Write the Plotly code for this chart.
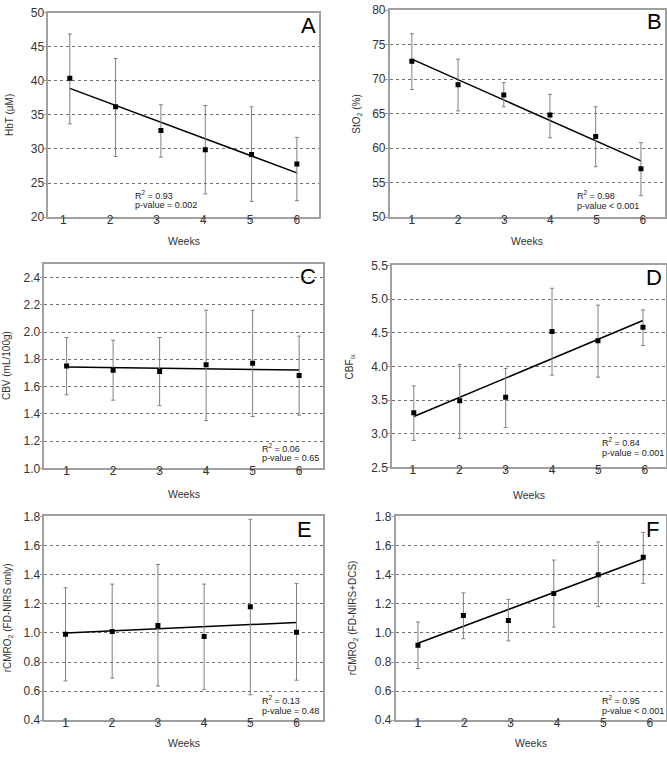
import numpy as np
import plotly.graph_objects as go

W, H = 667, 757

# week positions as plotted (points are slightly offset in the original)
weeks_a = [1.14, 2.12, 3.09, 4.04, 5.03, 6.0]
hbt = [40.4, 36.2, 32.7, 29.9, 29.2, 27.8]
hbt_hi = [46.9, 43.3, 36.5, 36.4, 36.2, 31.7]
hbt_lo = [33.7, 28.9, 28.8, 23.4, 22.3, 22.4]

weeks_b = [1.0, 2.0, 2.99, 3.99, 4.98, 5.96]
sto2 = [72.6, 69.2, 67.7, 64.8, 61.7, 57.0]
sto2_hi = [76.6, 72.9, 69.5, 67.8, 66.0, 60.8]
sto2_lo = [68.5, 65.4, 66.0, 61.5, 57.3, 53.1]

weeks_c = [1.0, 2.0, 3.0, 4.0, 5.0, 6.0]
cbv = [1.75, 1.72, 1.71, 1.76, 1.77, 1.68]
cbv_hi = [1.96, 1.94, 1.96, 2.16, 2.16, 1.97]
cbv_lo = [1.54, 1.50, 1.46, 1.35, 1.38, 1.39]

weeks_d = [1.02, 2.01, 3.0, 4.0, 4.99, 5.96]
cbf = [3.31, 3.49, 3.54, 4.52, 4.38, 4.58]
cbf_hi = [3.71, 4.03, 3.97, 5.16, 4.91, 4.84]
cbf_lo = [2.90, 2.93, 3.09, 3.87, 3.84, 4.31]

weeks_e = [1.0, 2.01, 3.0, 4.0, 5.0, 6.0]
cmro_e = [0.99, 1.01, 1.05, 0.975, 1.18, 1.005]
cmro_e_hi = [1.31, 1.335, 1.47, 1.335, 1.78, 1.34]
cmro_e_lo = [0.67, 0.69, 0.635, 0.61, 0.575, 0.675]

weeks_f = [1.0, 1.98, 2.95, 3.93, 4.89, 5.86]
cmro_f = [0.915, 1.12, 1.085, 1.27, 1.40, 1.52]
cmro_f_hi = [1.075, 1.275, 1.23, 1.50, 1.625, 1.69]
cmro_f_lo = [0.755, 0.96, 0.945, 1.04, 1.18, 1.34]

panels = [
    # letter, x, y, hi, lo, ytitle, yrange, dtick, xrange, box(px l,r,t,b),
    # stats lines, stats pos, letter centre, ytitle x, xtitle y
    ("A", weeks_a, hbt, hbt_hi, hbt_lo, "HbT (μM)", [20, 50], 5, [0.68, 6.48],
     (48.3, 319.3, 6, 214), ["R<sup>2</sup> = 0.93", "p-value = 0.002"], (133, 191.5), (308, 20), 10, 238),
    ("B", weeks_b, sto2, sto2_hi, sto2_lo, "StO<sub>2</sub> (%)", [50, 80], 5, [0.52, 6.47],
     (389.7, 664.5, 3.3, 214), ["R<sup>2</sup> = 0.98", "p-value < 0.001"], (574.7, 192), (654.5, 16), 357, 238),
    ("C", weeks_c, cbv, cbv_hi, cbv_lo, "CBV (mL/100g)", [1.0, 2.5], 0.2, [0.52, 6.52],
     (44.3, 323.3, 261.7, 470), ["R<sup>2</sup> = 0.06", "p-value = 0.65"], (260, 449), (308, 276), 6, 496),
    ("D", weeks_d, cbf, cbf_hi, cbf_lo, "CBF<sub>ix</sub>", [2.5, 5.5], 0.5, [0.55, 6.45],
     (392, 665.7, 263.3, 469), ["R<sup>2</sup> = 0.84", "p-value = 0.001"], (599.7, 443.5), (653.7, 276.5), 350, 497),
    ("E", weeks_e, cmro_e, cmro_e_hi, cmro_e_lo, "rCMRO<sub>2</sub> (FD-NIRS only)", [0.4, 1.8], 0.2, [0.54, 6.58],
     (44.3, 323.3, 519, 726.7), ["R<sup>2</sup> = 0.13", "p-value = 0.48"], (260, 706.5), (304, 533), 8, 750),
    ("F", weeks_f, cmro_f, cmro_f_hi, cmro_f_lo, "rCMRO<sub>2</sub> (FD-NIRS+DCS)", [0.4, 1.8], 0.2, [0.52, 6.34],
     (395.7, 665.5, 519, 726.7), ["R<sup>2</sup> = 0.95", "p-value < 0.001"], (599.7, 706.5), (652.3, 533), 353, 750),
]

FONT = "Liberation Sans, Arial, sans-serif"
fig = go.Figure()
annotations = []

def px(x):
    return x / W

def py(y):
    return 1 - y / H

for i, (letter, x, y, hi, lo, ytitle, yr, dt, xr, box, stats, spos, lpos, ytx, xty) in enumerate(panels):
    n = "" if i == 0 else str(i + 1)
    xa, ya = "x" + n, "y" + n
    x = np.array(x)
    y = np.array(y)
    # trend line from least-squares fit of the plotted points
    k, b = np.polyfit(x, y, 1)
    fig.add_trace(go.Scatter(x=[x[0], x[-1]], y=[k * x[0] + b, k * x[-1] + b], mode="lines",
                             line=dict(color="black", width=1.5), xaxis=xa, yaxis=ya, showlegend=False))
    fig.add_trace(go.Scatter(
        x=x, y=y, mode="markers", xaxis=xa, yaxis=ya, showlegend=False,
        marker=dict(symbol="square", size=5, color="black"),
        error_y=dict(type="data", symmetric=False, array=np.array(hi) - y, arrayminus=y - np.array(lo),
                     color="#808080", thickness=1, width=2)))
    l, r, t, bt = box
    fig.update_layout({
        "xaxis" + n: dict(domain=[px(l), px(r)], range=xr, anchor=ya, tickvals=[1, 2, 3, 4, 5, 6],
                          showgrid=False, zeroline=False, showline=True, linecolor="#a0a0a0", linewidth=1.5,
                          mirror=True, ticks="outside", ticklen=3, tickcolor="#a0a0a0",
                          ticklabelstandoff=-12,
                          tickfont=dict(size=12, color="#333", family=FONT)),
        "yaxis" + n: dict(domain=[py(bt), py(t)], range=yr, anchor=xa, tick0=yr[0], dtick=dt,
                          tickformat=".1f" if dt < 1 else "d",
                          showgrid=True, gridcolor="#707070", griddash="dot", gridwidth=1,
                          zeroline=False, showline=True, linecolor="#a0a0a0", linewidth=1.5, mirror=True,
                          ticks="outside", ticklen=3, tickcolor="#a0a0a0",
                          ticklabelstandoff=-3,
                          tickfont=dict(size=12, color="#333", family=FONT)),
    })
    annotations.append(dict(x=px(lpos[0]), y=py(lpos[1] - 1), xref="paper", yref="paper", text=letter,
                            showarrow=False, xanchor="center", yanchor="middle",
                            font=dict(size=22, color="black", family=FONT)))
    for j, line in enumerate(stats):
        annotations.append(dict(x=px(spos[0]), y=py(spos[1] + 10.5 * j), xref="paper", yref="paper",
                                text=line, showarrow=False, align="left",
                                xanchor="left", yanchor="middle",
                                font=dict(size=9, color="#222", family=FONT)))
    annotations.append(dict(x=px(ytx), y=py((t + bt) / 2), xref="paper", yref="paper", text=ytitle,
                            textangle=-90, showarrow=False, xanchor="center", yanchor="middle",
                            font=dict(size=10, color="#333", family=FONT)))
    annotations.append(dict(x=px((l + r) / 2), y=py(xty), xref="paper", yref="paper", text="Weeks",
                            showarrow=False, xanchor="center", yanchor="middle",
                            font=dict(size=10.5, color="#333", family=FONT)))

fig.update_layout(width=W, height=H, margin=dict(l=0, r=0, t=0, b=0),
                  paper_bgcolor="white", plot_bgcolor="white", annotations=annotations)

fig.write_html("out.html", config={"displayModeBar": False},
               post_script="document.body.style.margin='0px';")
